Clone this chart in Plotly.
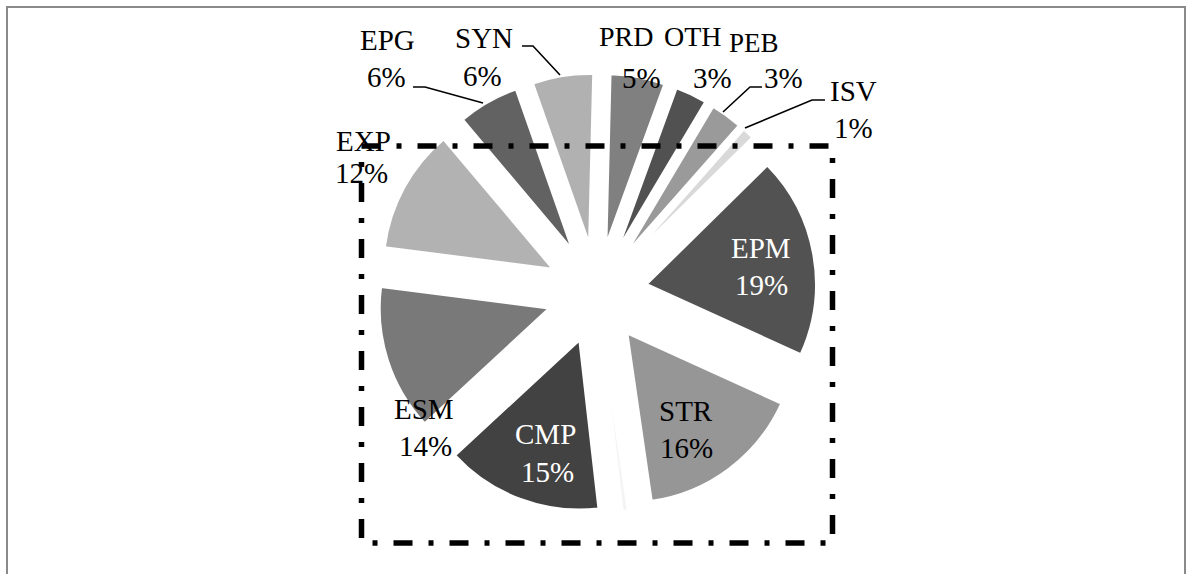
import plotly.graph_objects as go

W, H = 1186, 574

# ---- data (clockwise from 12 o'clock) ----
categories = ["PRD", "OTH", "PEB", "ISV", "EPM", "STR", "n/a", "CMP", "ESM", "EXP", "EPG", "SYN"]
values = [5.2, 3.0, 3.0, 1.1, 19.3, 16.0, 0.5, 15.0, 14.0, 11.9, 5.8, 5.8]
colors = ["#808080", "#515151", "#9a9a9a", "#d9d9d9", "#525252", "#969696",
          "#f4f4f4", "#424242", "#797979", "#b2b2b2", "#626262", "#b1b1b1"]
shown = [True, True, True, True, True, True, False, True, True, True, True, True]

total = sum(values)
pct_labels = ["%d%%" % round(v / total * 100) for v in values]


def X(px):
    return px / W


def Y(py):
    return 1 - py / H


# ---- layout / styling (pixel positions of label lines) ----
cx, cy, r, pull = 597, 293, 169, 0.30
R = r * (1 + pull)

label_pos = {
    "PRD": ((626, 36), (641, 78)),
    "OTH": ((693, 36), (712, 78)),
    "PEB": ((754, 43), (784, 78)),
    "ISV": ((853, 91), (853, 128)),
    "EPM": ((761, 248), (761, 285)),
    "STR": ((686, 411), (686, 448)),
    "CMP": ((545, 434), (547, 472)),
    "ESM": ((424, 409), (425, 446)),
    "EXP": ((363, 141), (362, 173)),
    "EPG": ((387, 40), (386, 77)),
    "SYN": ((484, 38), (482, 76)),
}
label_size = {"PRD": 28, "OTH": 28, "PEB": 27}
white_text = {"EPM", "CMP"}

leaders = [
    [(413, 87), (425, 87), (483, 103)],
    [(522, 46), (533, 46), (560, 75)],
    [(762, 87), (750, 87), (723, 112)],
    [(825, 100), (812, 100), (745, 128)],
]

fig = go.Figure()
fig.add_trace(go.Pie(
    labels=categories,
    values=values,
    sort=False,
    direction="clockwise",
    rotation=1.4,
    pull=[pull] * len(values),
    marker=dict(colors=colors, line=dict(color="white", width=2)),
    textinfo="none",
    hoverinfo="label+percent",
    showlegend=False,
    domain=dict(x=[X(cx - R), X(cx + R)], y=[Y(cy + R), Y(cy - R)]),
))

annotations = []
for cat, pct, show in zip(categories, pct_labels, shown):
    if not show:
        continue
    (nx, ny), (qx, qy) = label_pos[cat]
    col = "white" if cat in white_text else "black"
    for i, (txt, (ax, ay)) in enumerate(((cat, (nx, ny)), (pct, (qx, qy)))):
        size = label_size.get(cat, 29) if i == 0 else 29
        annotations.append(dict(
            x=X(ax), y=Y(ay), xref="paper", yref="paper",
            text=txt, showarrow=False, xanchor="center", yanchor="middle",
            font=dict(family="Liberation Serif, Times New Roman, serif", size=size, color=col),
        ))

shapes = []
# outer frame
shapes.append(dict(type="rect", xref="paper", yref="paper",
                   x0=X(7), x1=X(1185), y0=Y(7), y1=Y(600),
                   line=dict(color="#8a8a8a", width=2), layer="above"))
# dash-dot highlight rectangle
shapes.append(dict(type="rect", xref="paper", yref="paper",
                   x0=X(361.5), x1=X(832.5), y0=Y(146), y1=Y(543),
                   line=dict(color="black", width=5.5, dash="19px,16px,5px,16px"),
                   layer="above"))
# leader lines
for pts in leaders:
    path = "M " + " L ".join("%f,%f" % (X(px), Y(py)) for px, py in pts)
    shapes.append(dict(type="path", xref="paper", yref="paper", path=path,
                       line=dict(color="black", width=1.6), layer="above"))

fig.update_layout(
    width=W, height=H,
    margin=dict(l=0, r=0, t=0, b=0, pad=0),
    paper_bgcolor="white", plot_bgcolor="white",
    annotations=annotations, shapes=shapes,
)

fig.write_html("out.html")
